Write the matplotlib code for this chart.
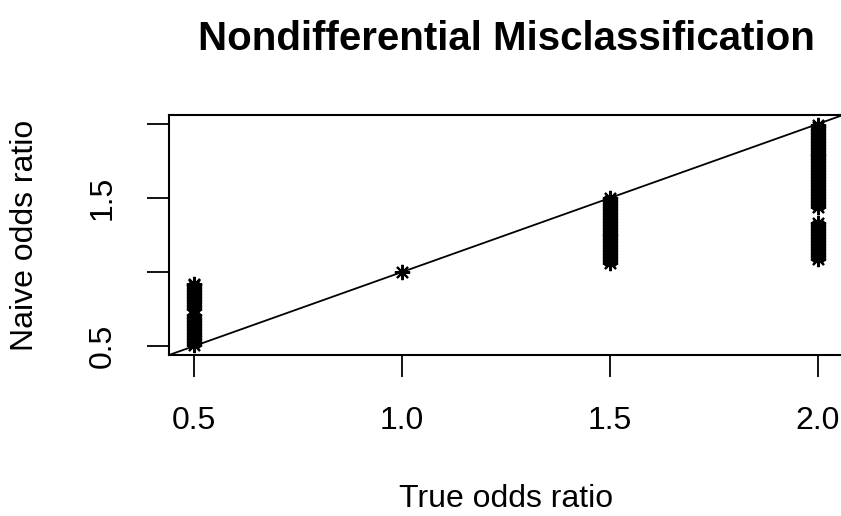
import matplotlib
matplotlib.use("Agg")
import matplotlib.pyplot as plt

plt.rcParams['font.family'] = ['Liberation Sans', 'DejaVu Sans']

# true odds ratio -> naive (misclassified) odds ratio estimates
naive_05 = [0.51, 0.53, 0.55, 0.57, 0.59, 0.61, 0.63, 0.65, 0.67, 0.69, 0.71,
            0.75, 0.77, 0.79, 0.81, 0.83, 0.85, 0.87, 0.89, 0.91, 0.92]
naive_10 = [1.0]
naive_15 = [1.06, 1.08, 1.10, 1.12, 1.14, 1.16, 1.18, 1.20, 1.22, 1.24, 1.26,
            1.28, 1.30, 1.32, 1.34, 1.36, 1.38, 1.40, 1.42, 1.44, 1.46, 1.48, 1.50]
naive_20 = [1.09, 1.11, 1.13, 1.15, 1.17, 1.19, 1.21, 1.23, 1.25, 1.27, 1.29, 1.31, 1.33,
            1.44, 1.46, 1.48, 1.50, 1.52, 1.54, 1.56, 1.58, 1.60, 1.62, 1.64, 1.66, 1.68,
            1.70, 1.72, 1.74, 1.76, 1.78, 1.80, 1.82, 1.84, 1.86, 1.88, 1.90, 1.92, 1.94,
            1.96, 1.98, 1.99]

true_or = [0.5] * len(naive_05) + [1.0] * len(naive_10) + [1.5] * len(naive_15) + [2.0] * len(naive_20)
naive_or = naive_05 + naive_10 + naive_15 + naive_20

x_ticks = [0.5, 1.0, 1.5, 2.0]
y_ticks = [0.5, 1.0, 1.5, 2.0]
y_ticklabels = ["0.5", "", "1.5", ""]

fig = plt.figure(figsize=(8.41, 5.16), dpi=100)
ax = fig.add_axes([169 / 841, (516 - 355) / 516, 674 / 841, 240 / 516])

ax.plot(true_or, naive_or, linestyle="none", marker=(8, 2, 0), markersize=11,
        markeredgewidth=1.5, color="black")
ax.axline((0, 0), slope=1, color="black", linewidth=1.3)

ax.set_xlim(0.44, 2.06)
ax.set_ylim(0.44, 2.06)
ax.set_xticks(x_ticks)
ax.set_xticklabels([f"{v:.1f}" for v in x_ticks], fontsize=23)
ax.set_yticks(y_ticks)
ax.set_yticklabels(y_ticklabels, fontsize=23, rotation=90, va="center")
ax.tick_params(axis="both", direction="out", length=16, width=1.3, pad=21)
for s in ax.spines.values():
    s.set_linewidth(1.5)

ax.set_xlabel("True odds ratio", fontsize=23, labelpad=34)
ax.set_ylabel("Naive odds ratio", fontsize=23, labelpad=34)
ax.set_title("Nondifferential Misclassification", fontsize=29, fontweight="bold", pad=47)

fig.savefig("out.png", dpi=100)
